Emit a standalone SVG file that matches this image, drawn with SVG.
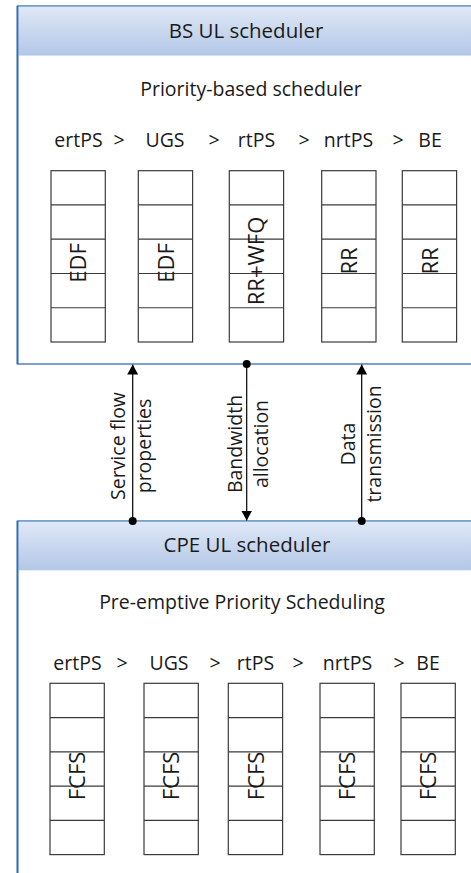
<svg xmlns="http://www.w3.org/2000/svg" width="471" height="873" viewBox="0 0 471 873">
<style>
text{font-family:"Open Sans","Noto Sans","DejaVu Sans",sans-serif;fill:#1a1a1a;font-size:19.5px}
.hdr{font-size:20.5px;text-anchor:middle}
.mid{text-anchor:middle}
.ql{text-anchor:middle;font-size:22px}
.q{fill:#fff;stroke:#3a3a3a;stroke-width:1.2}
.rl{stroke:#3a3a3a;stroke-width:1.2}
.conn{stroke:#000;stroke-width:1.2;fill:none}
.dot{fill:#000}
.frame{fill:#fff;stroke:#4f81bd;stroke-width:1.5}
</style>
<defs>
<linearGradient id="hg" x1="0" y1="0" x2="0" y2="1">
<stop offset="0" stop-color="#dfe8f6"/>
<stop offset="1" stop-color="#b3c7e7"/>
</linearGradient>
<marker id="ah" viewBox="0 0 10 11" refX="10" refY="5.5" markerWidth="10" markerHeight="11" markerUnits="userSpaceOnUse" orient="auto">
<path d="M0,0 L10,5.5 L0,11 Z" fill="#000"/>
</marker>
<g id="qcol">
<rect class="q" x="0" y="0" width="54.3" height="171.3"/>
<line class="rl" x1="0" y1="34.26" x2="54.3" y2="34.26"/>
<line class="rl" x1="0" y1="68.52" x2="54.3" y2="68.52"/>
<line class="rl" x1="0" y1="102.78" x2="54.3" y2="102.78"/>
<line class="rl" x1="0" y1="137.04" x2="54.3" y2="137.04"/>
</g>
</defs>

<g id="bs">
<rect class="frame" x="17.5" y="6" width="470" height="358"/>
<rect x="18.3" y="6.8" width="470" height="48.8" fill="url(#hg)"/>
<line x1="17.5" y1="6" x2="17.5" y2="364" stroke="#2f6db5" stroke-width="1.8"/>
<text class="hdr" x="246" y="38">BS UL scheduler</text>
<text class="mid" x="251" y="96">Priority-based scheduler</text>
<text class="mid" x="78.5" y="147">ertPS</text>
<text class="mid" x="119" y="147">&gt;</text>
<text class="mid" x="165" y="147">UGS</text>
<text class="mid" x="214" y="147">&gt;</text>
<text class="mid" x="256.5" y="147">rtPS</text>
<text class="mid" x="304" y="147">&gt;</text>
<text class="mid" x="348.5" y="147">nrtPS</text>
<text class="mid" x="398" y="147">&gt;</text>
<text class="mid" x="430" y="147">BE</text>
</g>

<g id="bs-q1"><use href="#qcol" x="51" y="170.7"/><text class="ql" transform="translate(86,263) rotate(-90)">EDF</text></g>
<g id="bs-q2"><use href="#qcol" x="138.3" y="170.7"/><text class="ql" transform="translate(173.5,263) rotate(-90)">EDF</text></g>
<g id="bs-q3"><use href="#qcol" x="229.3" y="170.7"/><text class="ql" transform="translate(264,261) rotate(-90)">RR+WFQ</text></g>
<g id="bs-q4"><use href="#qcol" x="321.7" y="170.7"/><text class="ql" transform="translate(356.5,261) rotate(-90)">RR</text></g>
<g id="bs-q5"><use href="#qcol" x="402.3" y="170.7"/><text class="ql" transform="translate(437.5,261) rotate(-90)">RR</text></g>

<g id="cpe">
<rect class="frame" x="17.5" y="521" width="470" height="370"/>
<rect x="18.3" y="521.8" width="470" height="48.5" fill="url(#hg)"/>
<line x1="17.5" y1="521" x2="17.5" y2="873" stroke="#2f6db5" stroke-width="1.8"/>
<text class="hdr" x="247" y="552">CPE UL scheduler</text>
<text class="mid" x="242" y="609">Pre-emptive Priority Scheduling</text>
<text class="mid" x="77.5" y="670">ertPS</text>
<text class="mid" x="122" y="670">&gt;</text>
<text class="mid" x="169" y="670">UGS</text>
<text class="mid" x="215" y="670">&gt;</text>
<text class="mid" x="255.5" y="670">rtPS</text>
<text class="mid" x="298" y="670">&gt;</text>
<text class="mid" x="347.5" y="670">nrtPS</text>
<text class="mid" x="399" y="670">&gt;</text>
<text class="mid" x="428" y="670">BE</text>
</g>

<g id="cpe-q1"><use href="#qcol" x="50" y="683.3"/><text class="ql" transform="translate(85,776) rotate(-90)">FCFS</text></g>
<g id="cpe-q2"><use href="#qcol" x="144" y="683.3"/><text class="ql" transform="translate(179,776) rotate(-90)">FCFS</text></g>
<g id="cpe-q3"><use href="#qcol" x="228.3" y="683.3"/><text class="ql" transform="translate(263.5,776) rotate(-90)">FCFS</text></g>
<g id="cpe-q4"><use href="#qcol" x="320" y="683.3"/><text class="ql" transform="translate(355,776) rotate(-90)">FCFS</text></g>
<g id="cpe-q5"><use href="#qcol" x="401" y="683.3"/><text class="ql" transform="translate(436,776) rotate(-90)">FCFS</text></g>

<g id="connectors">
<line class="conn" x1="132.7" y1="521" x2="132.7" y2="364.5" marker-end="url(#ah)"/>
<circle class="dot" cx="132.7" cy="521" r="4"/>
<line class="conn" x1="246.7" y1="364" x2="246.7" y2="520.5" marker-end="url(#ah)"/>
<circle class="dot" cx="246.7" cy="364" r="4"/>
<line class="conn" x1="361.7" y1="521" x2="361.7" y2="364.5" marker-end="url(#ah)"/>
<circle class="dot" cx="361.7" cy="521" r="4"/>
<text class="mid" transform="translate(125,446) rotate(-90)">Service flow<tspan x="0" dy="26">properties</tspan></text>
<text class="mid" transform="translate(242,444) rotate(-90)">Bandwidth<tspan x="0" dy="26">allocation</tspan></text>
<text class="mid" transform="translate(355,444) rotate(-90)">Data<tspan x="0" dy="26">transmission</tspan></text>
</g>
</svg>
